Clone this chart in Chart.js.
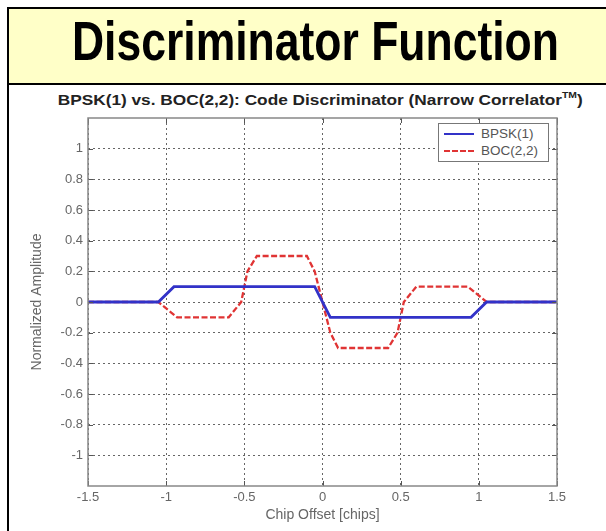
<!DOCTYPE html>
<html>
<head>
<meta charset="utf-8">
<script src="https://cdn.jsdelivr.net/npm/chart.js@4.4.1/dist/chart.umd.min.js"></script>
<style>
  html, body { margin:0; padding:0; background:#fff; }
  body { width:606px; height:531px; overflow:hidden; position:relative; font-family:"Liberation Sans", Arial, sans-serif; }
  #header { position:absolute; left:7px; top:7px; width:610px; height:74px; background:#ffffc8;
            border-top:2px solid #000; border-left:2px solid #000; border-bottom:2px solid #000; overflow:hidden; }
  #htitle { position:absolute; left:0; width:597px; top:4px; line-height:56px; text-align:center; white-space:nowrap; }
  #htitle span { display:inline-block; font-family:"Liberation Sans", Arial, sans-serif;
            font-weight:bold; font-size:56px; color:#000; transform-origin:50% 50%; }
  #leftborder { position:absolute; left:7px; top:85px; width:2px; height:446px; background:#000; }
  #ctitle { position:absolute; left:0; width:641px; top:92px; line-height:16px; text-align:center; white-space:nowrap; }
  #ctitle span { display:inline-block; font-weight:bold; font-size:15px; color:#222; transform-origin:50% 50%; }
  #ctitle sup { font-size:9px; vertical-align:7px; line-height:0; }
  #wrap { position:absolute; left:0; top:86px; width:606px; height:445px; }
  #legend { position:absolute; left:438px; top:123px; width:109px; height:37px; background:#fff;
            border:1.5px solid #777; font-size:13.5px; color:#555; }
  .row { position:absolute; left:0; height:16px; line-height:16px; white-space:nowrap; }
  .sample { position:absolute; left:5px; top:7px; width:30px; height:0; }
  .lbl { position:absolute; left:42px; top:0; }
</style>
</head>
<body>
<div id="header"><div id="htitle"><span id="hspan">Discriminator Function</span></div></div>
<div id="leftborder"></div>
<div id="ctitle"><span id="cspan">BPSK(1) vs. BOC(2,2): Code Discriminator (Narrow Correlator<sup>TM</sup>)</span></div>
<div id="wrap"><canvas id="c" width="606" height="445"></canvas></div>
<div id="legend"></div>
<script>
// ---- data ----
const seriesNames = ["BPSK(1)", "BOC(2,2)"];
const bpskX = [-1.5, -1.05, -0.95, -0.05, 0.05, 0.95, 1.05, 1.5];
const bpskY = [0, 0, 0.1, 0.1, -0.1, -0.1, 0, 0];
const bocX = [-1.5, -1.05, -0.93, -0.6, -0.52, -0.48, -0.42, -0.1, -0.05, 0, 0.05, 0.1, 0.42, 0.48, 0.52, 0.6, 0.93, 1.05, 1.5];
const bocY = [0, 0, -0.1, -0.1, 0, 0.2, 0.3, 0.3, 0.2, 0, -0.2, -0.3, -0.3, -0.2, 0, 0.1, 0.1, 0, 0];
const xTicks = [-1.5, -1, -0.5, 0, 0.5, 1, 1.5];
const yTicks = [-1, -0.8, -0.6, -0.4, -0.2, 0, 0.2, 0.4, 0.6, 0.8, 1];
const xTitle = "Chip Offset [chips]";
const yTitle = "Normalized Amplitude";

// fit the condensed heading and subtitle widths
function fitWidth(id, target) {
  const el = document.getElementById(id);
  const w = el.getBoundingClientRect().width;
  el.style.transform = 'scaleX(' + (target / w) + ')';
}
fitWidth('hspan', 487);
fitWidth('cspan', 525);

const toPts = (xs, ys) => xs.map((x, i) => ({x: x, y: ys[i]}));
const colors = ["#3232c8", "#e03434"];
const dashes = [[], [6, 2.5]];

const boxPlugin = {
  id: 'box',
  afterDatasetsDraw(chart) {
    const {ctx, chartArea: a, scales: {x, y}} = chart;
    ctx.save();
    ctx.strokeStyle = '#555';
    ctx.lineWidth = 1;
    ctx.beginPath();
    xTicks.forEach(v => {
      const px = Math.round(x.getPixelForValue(v)) + 0.5;
      ctx.moveTo(px, a.bottom); ctx.lineTo(px, a.bottom - 5);
      ctx.moveTo(px, a.top); ctx.lineTo(px, a.top + 5);
    });
    yTicks.forEach(v => {
      const py = Math.round(y.getPixelForValue(v)) + 0.5;
      ctx.moveTo(a.left, py); ctx.lineTo(a.left + 5, py);
      ctx.moveTo(a.right, py); ctx.lineTo(a.right - 5, py);
    });
    ctx.stroke();
    ctx.strokeStyle = '#888';
    ctx.lineWidth = 1.5;
    ctx.strokeRect(a.left, a.top, a.right - a.left, a.bottom - a.top);
    ctx.restore();
  }
};

const tickFont = {family: "'Liberation Sans', Arial, sans-serif", size: 13};
const titleFont = {family: "'Liberation Sans', Arial, sans-serif", size: 14};
const chart = new Chart(document.getElementById('c'), {
  type: 'line',
  data: {
    datasets: [
      {label: seriesNames[0], data: toPts(bpskX, bpskY), borderColor: colors[0], borderWidth: 2.8,
       borderDash: dashes[0], pointRadius: 0, tension: 0, fill: false},
      {label: seriesNames[1], data: toPts(bocX, bocY), borderColor: colors[1], borderWidth: 2.3,
       borderDash: dashes[1], pointRadius: 0, tension: 0, fill: false}
    ]
  },
  options: {
    responsive: false,
    animation: false,
    layout: {padding: {left: 0, right: 49, top: 32, bottom: 0}},
    plugins: {legend: {display: false}, tooltip: {enabled: false}, title: {display: false}},
    scales: {
      x: {
        type: 'linear', min: -1.5, max: 1.5,
        afterBuildTicks: s => { s.ticks = xTicks.map(v => ({value: v})); },
        afterFit: s => { s.height = 45; },
        ticks: {font: tickFont, color: '#666', padding: 4, maxRotation: 0, callback: v => String(v)},
        grid: {color: '#666', lineWidth: 1, drawTicks: false},
        border: {display: false, dash: [2, 3]},
        title: {display: true, text: xTitle, font: titleFont, color: '#666', padding: {top: 0, bottom: 7}}
      },
      y: {
        type: 'linear', min: -1.2, max: 1.2,
        afterBuildTicks: s => { s.ticks = yTicks.map(v => ({value: v})); },
        afterFit: s => { s.width = 88; },
        ticks: {font: tickFont, color: '#666', padding: 5, callback: v => String(Math.round(v * 10) / 10)},
        grid: {color: '#666', lineWidth: 1, drawTicks: false},
        border: {display: false, dash: [2, 3]},
        title: {display: true, text: yTitle, font: titleFont, color: '#666', padding: {top: 29, bottom: 0}}
      }
    }
  },
  plugins: [boxPlugin]
});

// legend built from the chart's datasets
const leg = document.getElementById('legend');
chart.data.datasets.forEach((ds, i) => {
  const row = document.createElement('div');
  row.className = 'row';
  row.style.top = (2 + i * 17) + 'px';
  const s = document.createElement('div');
  s.className = 'sample';
  s.style.borderTop = (i === 0 ? '2.5px solid ' : '2px dashed ') + ds.borderColor;
  const t = document.createElement('div');
  t.className = 'lbl';
  t.textContent = ds.label;
  row.appendChild(s); row.appendChild(t);
  leg.appendChild(row);
});
</script>
</body>
</html>
